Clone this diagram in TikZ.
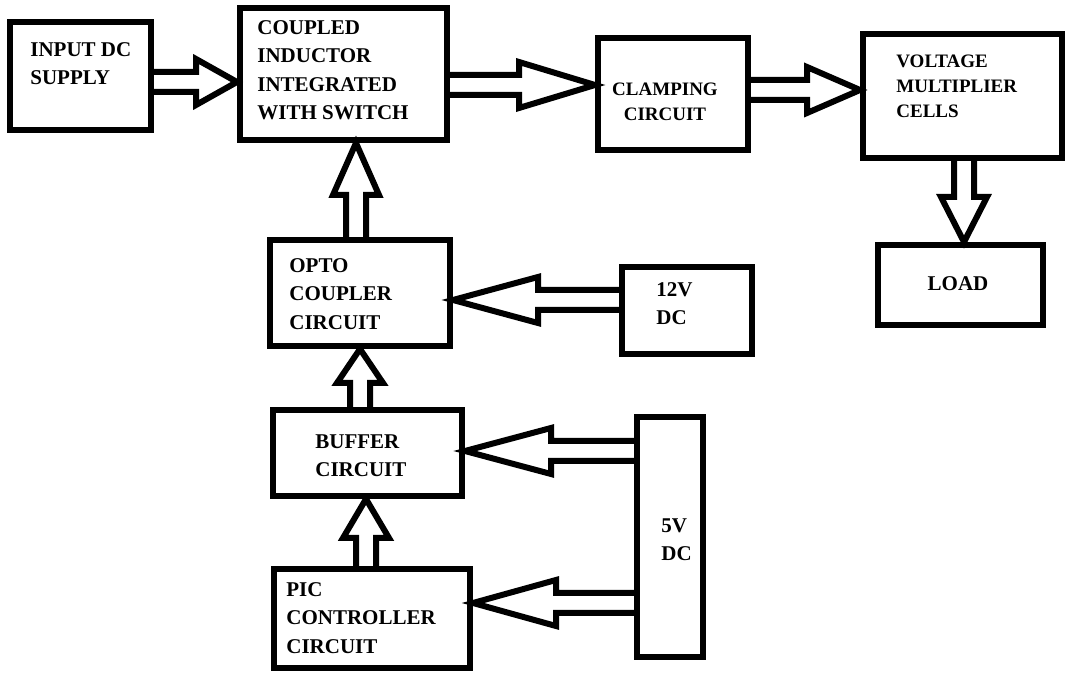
\documentclass[tikz,border=0pt]{standalone}
\usepackage{fontspec}
\setmainfont{Liberation Serif}
\usepackage{tikz}
\usetikzlibrary{calc}

\begin{document}
\begin{tikzpicture}[
  x=0.5pt, y=-0.5pt,
  blk/.style={rectangle, draw=black, line width=3pt, inner sep=0pt},
  txt/.style={inner sep=0pt, align=left, anchor=north west, font=\fontsize{10.5}{14.25}\selectfont\bfseries},
  smalltxt/.style={txt, font=\fontsize{9.5}{12.5}\selectfont\bfseries},
  hollow/.style={line width=3pt, line join=miter, to path={
    ($(\tikztostart)!5pt!90:(\tikztotarget)$)
    -- ($(\tikztotarget)!#1!(\tikztostart)!5pt!-90:(\tikztostart)$)
    -- ($(\tikztotarget)!#1!(\tikztostart)!11.5pt!-90:(\tikztostart)$)
    -- (\tikztotarget)
    -- ($(\tikztotarget)!#1!(\tikztostart)!11.5pt!90:(\tikztostart)$)
    -- ($(\tikztotarget)!#1!(\tikztostart)!5pt!90:(\tikztostart)$)
    -- ($(\tikztostart)!5pt!-90:(\tikztotarget)$)}}
]
\useasboundingbox (0,0) rectangle (1067,673);
% boxes
\node[blk, minimum width=70.5pt, minimum height=54pt] (input) at (80.5,76) {};
\node[blk, minimum width=103.5pt, minimum height=66pt] (coupled) at (343.5,74) {};
\node[blk, minimum width=75pt, minimum height=56pt] (clamp) at (673,94) {};
\node[blk, minimum width=99.5pt, minimum height=62pt] (volt) at (962.5,96) {};
\node[blk, minimum width=82.5pt, minimum height=40pt] (load) at (960.5,285) {};
\node[blk, minimum width=90pt, minimum height=53pt] (opto) at (360,293) {};
\node[blk, minimum width=65pt, minimum height=43.5pt] (twelve) at (687,310.5) {};
\node[blk, minimum width=94.5pt, minimum height=43pt] (buffer) at (367.5,453) {};
\node[blk, minimum width=33pt, minimum height=120pt] (five) at (670,537) {};
\node[blk, minimum width=98pt, minimum height=49.5pt] (pic) at (372,618.5) {};
% texts
\node[txt] (inputtxt) at (30,42) {INPUT DC\\SUPPLY};
\node[txt] (coupledtxt) at (257,20) {COUPLED\\INDUCTOR\\INTEGRATED\\WITH SWITCH};
\node[smalltxt, anchor=north, align=center] (clamptxt) at (665,83) {CLAMPING\\CIRCUIT};
\node[smalltxt] (volttxt) at (896,55) {VOLTAGE\\MULTIPLIER\\CELLS};
\node[txt, anchor=north] (loadtxt) at (958,276) {LOAD};
\node[txt] (optotxt) at (289,258) {OPTO\\COUPLER\\CIRCUIT};
\node[txt] (twelvetxt) at (656,282) {12V\\DC};
\node[txt] (buffertxt) at (315,434) {BUFFER\\CIRCUIT};
\node[txt] (fivetxt) at (661,518) {5V\\DC};
\node[txt] (pictxt) at (286,582) {PIC\\CONTROLLER\\CIRCUIT};
% block arrows
\draw[hollow=20.5pt] (input.east |- 0,82) to (coupled.west |- 0,82);
\draw[hollow=38pt] (coupled.east |- 0,85) to (clamp.west |- 0,85);
\draw[hollow=26.5pt] (clamp.east |- 0,90) to (volt.west |- 0,90);
\draw[hollow=22.5pt] (volt.south -| 964,0) to (load.north -| 964,0);
\draw[hollow=26pt] (opto.north -| 356,0) to (coupled.south -| 356,0);
\draw[hollow=42.5pt] (twelve.west |- 0,300) to (opto.east |- 0,300);
\draw[hollow=17pt] (buffer.north -| 360,0) to (opto.south -| 360,0);
\draw[hollow=43pt] (five.west |- 0,451) to (buffer.east |- 0,451);
\draw[hollow=19.5pt] (pic.north -| 366,0) to (buffer.south -| 366,0);
\draw[hollow=41.5pt] (five.west |- 0,603) to (pic.east |- 0,603);
\end{tikzpicture}
\end{document}
